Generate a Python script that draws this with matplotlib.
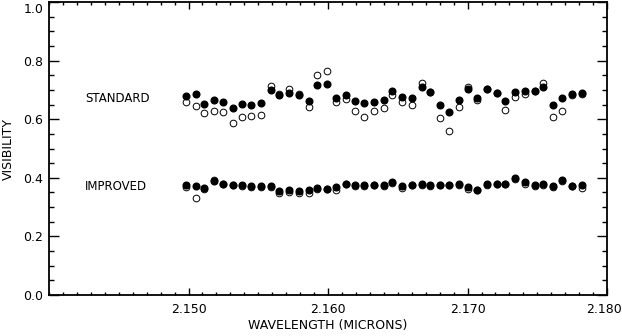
import matplotlib
matplotlib.use("Agg")
import matplotlib.pyplot as plt
from matplotlib.ticker import MultipleLocator, FuncFormatter

plt.rcParams['font.family'] = ['DejaVu Sans']

wavelength = [2.1498, 2.1505, 2.1511, 2.1518, 2.1525, 2.1532, 2.1538, 2.1545, 2.1552,
              2.1559, 2.1565, 2.1572, 2.1579, 2.1586, 2.1592, 2.1599, 2.1606, 2.1613,
              2.1619, 2.1626, 2.1633, 2.1640, 2.1646, 2.1653, 2.1660, 2.1667, 2.1673,
              2.1680, 2.1687, 2.1694, 2.1700, 2.1707, 2.1714, 2.1721, 2.1727, 2.1734,
              2.1741, 2.1748, 2.1754, 2.1761, 2.1768, 2.1775, 2.1782]

standard_filled = [0.678, 0.685, 0.653, 0.666, 0.659, 0.638, 0.652, 0.648, 0.655, 0.699,
                   0.684, 0.691, 0.681, 0.662, 0.718, 0.719, 0.674, 0.684, 0.661, 0.654,
                   0.660, 0.664, 0.695, 0.677, 0.672, 0.710, 0.694, 0.650, 0.625, 0.667,
                   0.702, 0.672, 0.703, 0.691, 0.661, 0.694, 0.697, 0.695, 0.709, 0.650,
                   0.671, 0.685, 0.691]
standard_open = [0.659, 0.646, 0.621, 0.627, 0.626, 0.586, 0.609, 0.610, 0.613, 0.713,
                 0.686, 0.703, 0.686, 0.642, 0.751, 0.766, 0.659, 0.669, 0.629, 0.606,
                 0.629, 0.637, 0.684, 0.660, 0.650, 0.724, 0.694, 0.605, 0.561, 0.642,
                 0.709, 0.666, 0.703, 0.691, 0.631, 0.677, 0.686, 0.695, 0.724, 0.609,
                 0.629, 0.684, 0.686]

improved_filled = [0.377, 0.371, 0.365, 0.389, 0.380, 0.375, 0.375, 0.371, 0.372, 0.371,
                   0.356, 0.359, 0.355, 0.357, 0.365, 0.362, 0.369, 0.380, 0.374, 0.375,
                   0.377, 0.375, 0.386, 0.371, 0.377, 0.379, 0.377, 0.377, 0.377, 0.379,
                   0.369, 0.360, 0.378, 0.380, 0.380, 0.398, 0.387, 0.377, 0.379, 0.371,
                   0.391, 0.373, 0.374]
improved_open = [0.370, 0.332, 0.363, 0.391, 0.379, 0.374, 0.373, 0.369, 0.367, 0.370,
                 0.348, 0.353, 0.347, 0.349, 0.363, 0.361, 0.360, 0.378, 0.372, 0.373,
                 0.374, 0.373, 0.383, 0.365, 0.374, 0.377, 0.373, 0.374, 0.374, 0.377,
                 0.362, 0.357, 0.374, 0.378, 0.379, 0.397, 0.380, 0.371, 0.377, 0.367,
                 0.388, 0.371, 0.366]

labels = ["STANDARD", "IMPROVED"]
label_y = [0.672, 0.372]

x_ticks = [2.150, 2.160, 2.170, 2.180]
x_ticklabels = ['2.150', '2.160', '2.170', '2.180']

fig = plt.figure(figsize=(6.22, 3.36), dpi=100)
ax = fig.add_axes([0.0788, 0.122, 0.8972, 0.872])

ms = 4.8
ax.plot(wavelength, standard_open, 'o', mfc='white', mec='black', mew=0.7, ms=ms, zorder=2)
ax.plot(wavelength, standard_filled, 'o', mfc='black', mec='black', ms=ms, zorder=3)
ax.plot(wavelength, improved_open, 'o', mfc='white', mec='black', mew=0.7, ms=ms, zorder=2)
ax.plot(wavelength, improved_filled, 'o', mfc='black', mec='black', ms=ms, zorder=3)

for lab, yv in zip(labels, label_y):
    ax.text(2.1426, yv, lab, fontsize=8.5, va='center', ha='left')

ax.set_xlim(2.140, 2.180)
ax.set_ylim(0.0, 1.0)
ax.xaxis.set_minor_locator(MultipleLocator(0.001))
ax.yaxis.set_major_locator(MultipleLocator(0.2))
ax.yaxis.set_minor_locator(MultipleLocator(0.05))
ax.set_xticks(x_ticks)
# last x label is pulled inside the figure edge, as in the reference
ax.set_xticklabels(x_ticklabels[:-1] + [''])
fig.text(0.999, 0.099, x_ticklabels[-1], ha='right', va='top', fontsize=9)
# top y label drawn below its tick, as in the reference
ax.yaxis.set_major_formatter(FuncFormatter(lambda v, p: '' if v > 0.99 else f'{v:.1f}'))
ax.text(-0.01, 0.995, '1.0', transform=ax.transAxes, ha='right', va='top', fontsize=9)

ax.tick_params(which='both', direction='in', top=True, right=True, labelsize=9, width=1.0)
ax.tick_params(which='major', axis='y', length=7.5)
ax.tick_params(which='minor', axis='y', length=3.8)
ax.tick_params(which='major', axis='x', length=5)
ax.tick_params(which='minor', axis='x', length=2.5)
ax.tick_params(axis='x', pad=6)
ax.tick_params(axis='y', pad=4)
for s in ax.spines.values():
    s.set_linewidth(1.3)

ax.set_xlabel("WAVELENGTH (MICRONS)", fontsize=9, labelpad=2)
ax.set_ylabel("VISIBILITY", fontsize=9, labelpad=6)

fig.savefig("out.png", dpi=100)
